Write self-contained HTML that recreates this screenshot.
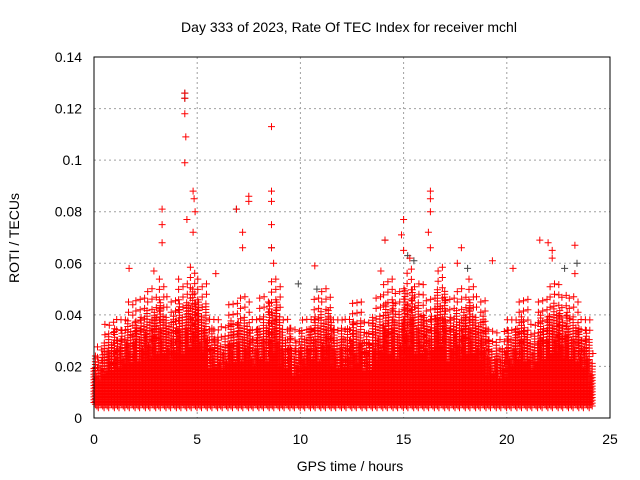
<!DOCTYPE html>
<html><head><meta charset="utf-8"><style>
body{margin:0;background:#fff;}
svg{display:block;font-family:"Liberation Sans",sans-serif;}
</style></head><body>
<svg id="chart" width="640" height="480">
<text x="349" y="32" font-size="14" text-anchor="middle">Day 333 of 2023, Rate Of TEC Index for receiver mchl</text>
<text x="350" y="471" font-size="14" text-anchor="middle">GPS time / hours</text>
<text x="19" y="238" font-size="14" text-anchor="middle" transform="rotate(-90 19 238)">ROTI / TECUs</text>
<g id="grid"></g>
<g id="ticks"></g>
<path id="gray" fill="none" stroke="#444" stroke-width="1"></path>
<path id="dense" fill="none" stroke="#f00" stroke-width="1"></path>
<rect x="94" y="57" width="516" height="361" fill="none" stroke="#000"></rect>
</svg>
<script>
const xTicks=[0,5,10,15,20,25];
const yTicks=[0,0.02,0.04,0.06,0.08,0.1,0.12,0.14];
const yTickLabels=["0","0.02","0.04","0.06","0.08","0.1","0.12","0.14"];
const binHours=[0,0.5,1,1.5,2,2.5,3,3.5,4,4.5,5,5.5,6,6.5,7,7.5,8,8.5,9,9.5,10,10.5,11,11.5,12,12.5,13,13.5,14,14.5,15,15.5,16,16.5,17,17.5,18,18.5,19,19.5,20,20.5,21,21.5,22,22.5,23,23.5,24];
const binTop=[0.025,0.033,0.035,0.038,0.04,0.042,0.045,0.04,0.045,0.05,0.045,0.035,0.032,0.038,0.04,0.035,0.04,0.045,0.035,0.03,0.035,0.04,0.042,0.035,0.035,0.038,0.033,0.04,0.045,0.042,0.05,0.045,0.04,0.05,0.04,0.042,0.045,0.04,0.03,0.028,0.035,0.04,0.033,0.04,0.045,0.042,0.04,0.035,0.022];
const spikeX=[4.4,4.4,4.4,4.45,4.4,4.5,4.8,4.85,4.9,4.8,3.3,3.3,3.3,6.9,7.2,7.2,7.5,7.5,8.6,8.6,8.6,8.6,8.6,8.7,14.1,14.9,15,15,15.3,16.3,16.3,16.3,16.2,16.3,17.8,17.6,19.3,21.6,22,22.2,22.2,23.3,23.3,1.7,2.9,10.7,13.9,20.3,5.9];
const spikeY=[0.126,0.124,0.118,0.109,0.099,0.077,0.088,0.085,0.08,0.072,0.081,0.075,0.068,0.081,0.072,0.066,0.086,0.084,0.113,0.088,0.084,0.075,0.066,0.06,0.069,0.071,0.077,0.065,0.062,0.088,0.085,0.08,0.072,0.066,0.066,0.06,0.061,0.069,0.068,0.065,0.062,0.067,0.056,0.058,0.057,0.059,0.057,0.058,0.056];
const grayX=[4.4,4.4,6.9,8.6,9.9,14.1,15.2,15.5,22.8,23.4,10.8,18.1];
const grayY=[0.126,0.124,0.081,0.066,0.052,0.069,0.063,0.061,0.058,0.06,0.05,0.058];
const L=94,R=610,T=57,B=418;
const sx=h=>L+(R-L)*h/25, sy=v=>B-(B-T)*v/0.14;
const NS="http://www.w3.org/2000/svg";
const grid=document.getElementById('grid'), ticks=document.getElementById('ticks');
function mk(tag,at,parent){const e=document.createElementNS(NS,tag);for(const k in at)e.setAttribute(k,at[k]);parent.appendChild(e);return e;}
xTicks.forEach((t,i)=>{const x=sx(t);
 if(i>0&&i<xTicks.length-1){const g=mk('line',{x1:x,x2:x,y1:T,y2:B,stroke:'#a0a0a0','stroke-dasharray':'2,3'},grid);
 
 }
 const tx=mk('text',{x:x,y:B+26,'font-size':14,'text-anchor':'middle'},ticks);tx.textContent=t;
 
 });
yTicks.forEach((t,i)=>{const y=sy(t);
 if(i>0&&i<yTicks.length-1){const g=mk('line',{x1:L,x2:R,y1:y,y2:y,stroke:'#a0a0a0','stroke-dasharray':'2,3'},grid);
 
 }
 const tx=mk('text',{x:L-12,y:y+5,'font-size':14,'text-anchor':'end'},ticks);tx.textContent=yTickLabels[i];
 
 });
const plus=(x,y)=>`M${(x-3.5).toFixed(1)} ${y.toFixed(1)}h7M${x.toFixed(1)} ${(y-3.5).toFixed(1)}v7`;
let d="";
let c=0;
for(let i=0;i<binHours.length;i++){
 const h0=binHours[i], w=(i<binHours.length-1?0.5:0.2);
 for(let h=h0;h<h0+w;h+=0.07){
  c++;
  const f=0.55+0.45*((c*7)%5)/4;
  const top=binTop[i]*f;
  const low=0.004+0.002*((c*3)%4)/3;
  for(let v=low;v<=top;v+=0.0011){
   d+=plus(sx(h),sy(v));
  }
  if(c%3===0){
   for(let v=top+0.003;v<=binTop[i]*1.2;v+=0.004){d+=plus(sx(h+0.03),sy(v));}
  }
 }
}
spikeX.forEach((x,i)=>{d+=plus(sx(x),sy(spikeY[i]));});
document.getElementById('dense').setAttribute('d',d);
let g="";grayX.forEach((x,i)=>{g+=plus(sx(x),sy(grayY[i]));});
document.getElementById('gray').setAttribute('d',g);
</script>
</body></html>
